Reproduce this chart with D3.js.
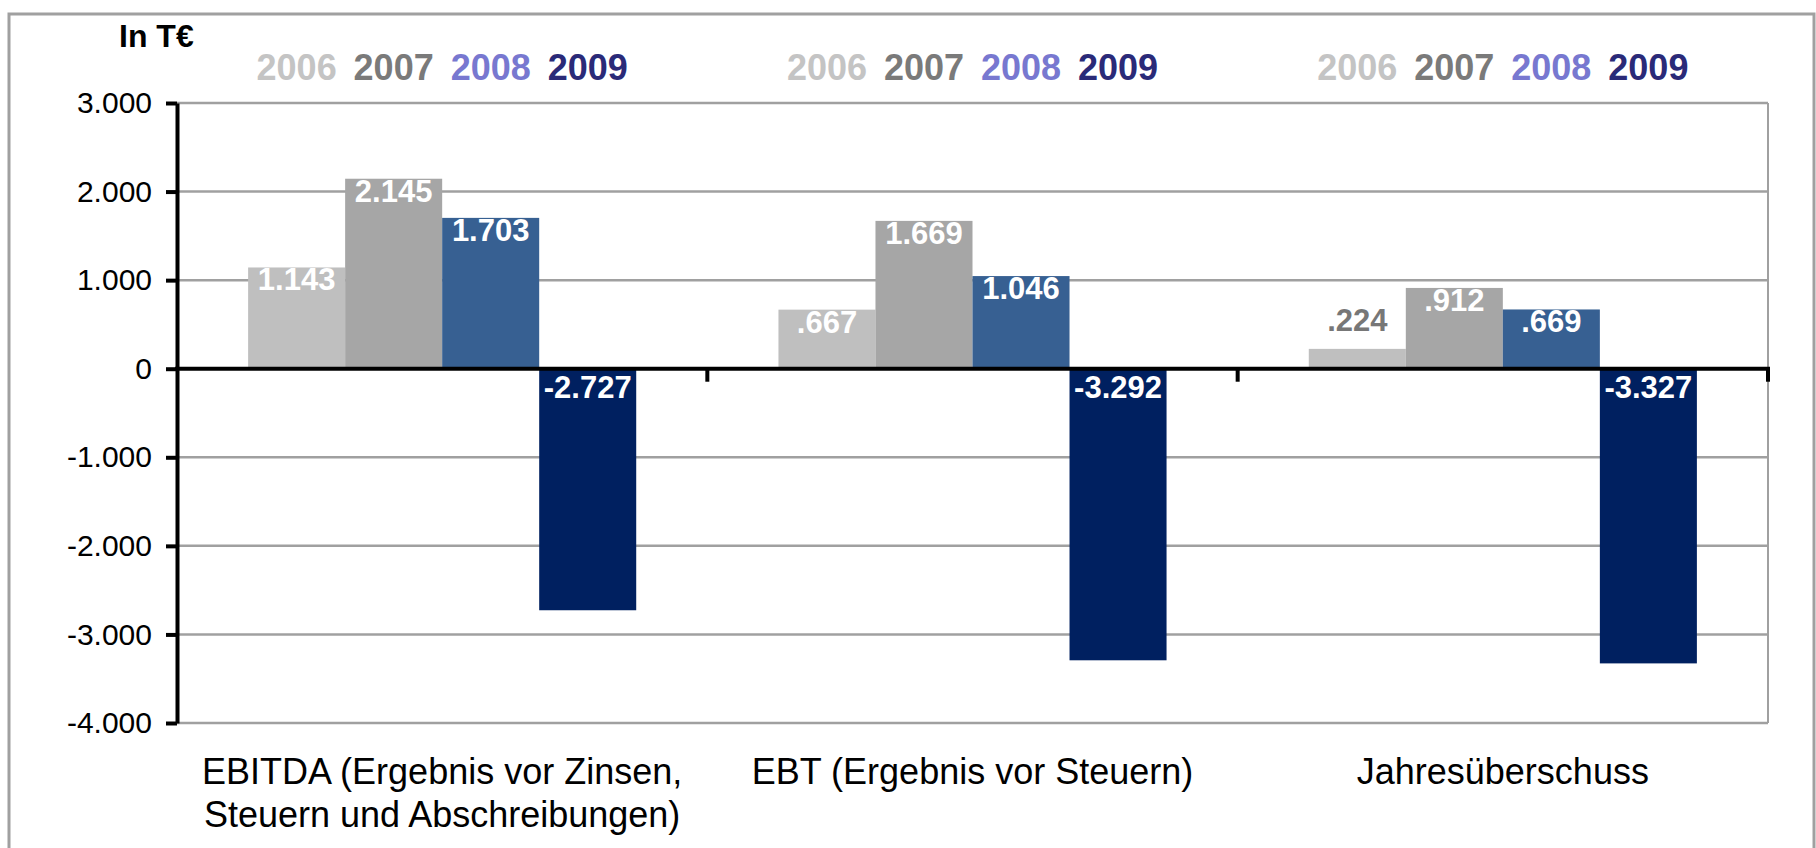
<!DOCTYPE html>
<html>
<head>
<meta charset="utf-8">
<script src="https://cdn.jsdelivr.net/npm/d3@7"></script>
<style>
  body { margin: 0; background: #fff; }
  text { font-family: "Liberation Sans", Arial, sans-serif; }
</style>
</head>
<body>
<script>
const categories = [
  ["EBITDA (Ergebnis vor Zinsen,", "Steuern und Abschreibungen)"],
  ["EBT (Ergebnis vor Steuern)"],
  ["Jahresüberschuss"]
];
const years = ["2006", "2007", "2008", "2009"];
const values2006 = [1143, 667, 224];
const values2007 = [2145, 1669, 912];
const values2008 = [1703, 1046, 669];
const values2009 = [-2727, -3292, -3327];
const yTicks = [3000, 2000, 1000, 0, -1000, -2000, -3000, -4000];
const unitLabel = "In T€";

const barColors = ["#bfbfbf", "#a6a6a6", "#376092", "#002060"];
const legendColors = ["#c4c4c4", "#7a7a7a", "#7878d0", "#2a2a78"];

const series = [values2006, values2007, values2008, values2009];
const catKeys = categories.map((c, i) => "c" + i);
const data = [];
catKeys.forEach((c, i) => {
  years.forEach((y, j) => data.push({ cat: c, year: y, value: series[j][i], idx: j }));
});

// labels like the original: thousands shown with "." and no leading zero
const fmt = (v) => {
  const a = Math.abs(v);
  const head = Math.floor(a / 1000);
  const tail = String(a % 1000).padStart(3, "0");
  return (v < 0 ? "-" : "") + (head ? head : "") + "." + tail;
};
const tickFmt = (v) => {
  if (v === 0) return "0";
  const a = Math.abs(v);
  return (v < 0 ? "-" : "") + Math.floor(a / 1000) + "." + String(a % 1000).padStart(3, "0");
};

const width = 1816, height = 848;
const svg = d3.select("body")
  .append("svg")
  .attr("width", width)
  .attr("height", height);

// outer frame
svg.append("rect")
  .attr("x", 9).attr("y", 14)
  .attr("width", 1805).attr("height", 900)
  .attr("fill", "none")
  .attr("stroke", "#a0a0a0")
  .attr("stroke-width", 3);

const x0 = d3.scaleBand()
  .domain(catKeys)
  .range([177, 1768])
  .paddingInner(0)
  .paddingOuter(0);

const x1 = d3.scaleBand()
  .domain(years)
  .range([0, x0.bandwidth()])
  .paddingInner(0)
  .paddingOuter(0.733);

const y = d3.scaleLinear()
  .domain([-4000, 3000])
  .range([723, 103]);

// gridlines
svg.append("g")
  .selectAll("line")
  .data(yTicks)
  .enter()
  .append("line")
  .attr("x1", 177)
  .attr("x2", 1768)
  .attr("y1", (d) => y(d))
  .attr("y2", (d) => y(d))
  .attr("stroke", "#a0a0a0")
  .attr("stroke-width", 2.5);

svg.append("line")
  .attr("x1", 1768).attr("x2", 1768)
  .attr("y1", y(3000)).attr("y2", y(-4000))
  .attr("stroke", "#a0a0a0")
  .attr("stroke-width", 2);

// bars
svg.append("g")
  .selectAll("rect")
  .data(data)
  .enter()
  .append("rect")
  .attr("x", (d) => x0(d.cat) + x1(d.year))
  .attr("y", (d) => y(Math.max(0, d.value)))
  .attr("width", x1.bandwidth())
  .attr("height", (d) => Math.abs(y(d.value) - y(0)))
  .attr("fill", (d) => barColors[d.idx]);

// y axis
const yAxis = svg.append("g")
  .attr("transform", "translate(177,0)")
  .call(d3.axisLeft(y).tickValues(yTicks).tickFormat(tickFmt).tickSize(11).tickSizeOuter(0).tickPadding(14));
yAxis.select(".domain").attr("stroke", "#000").attr("stroke-width", 4);
yAxis.selectAll(".tick line").attr("stroke", "#000").attr("stroke-width", 4);
yAxis.selectAll(".tick text")
  .attr("fill", "#000")
  .style("font-size", "30px")
  .style("font-family", "'Liberation Sans', Arial, sans-serif");

// zero line with category separators
svg.append("line")
  .attr("x1", 175).attr("x2", 1770)
  .attr("y1", y(0)).attr("y2", y(0))
  .attr("stroke", "#000")
  .attr("stroke-width", 4);

svg.append("g")
  .selectAll("line")
  .data(catKeys)
  .enter()
  .append("line")
  .attr("x1", (d) => x0(d) + x0.bandwidth())
  .attr("x2", (d) => x0(d) + x0.bandwidth())
  .attr("y1", y(0))
  .attr("y2", y(0) + 13)
  .attr("stroke", "#000")
  .attr("stroke-width", 4);

// data labels
svg.append("g")
  .selectAll("text")
  .data(data)
  .enter()
  .append("text")
  .attr("x", (d) => x0(d.cat) + x1(d.year) + x1.bandwidth() / 2)
  .attr("y", (d) => {
    if (d.value < 0) return y(0) + 29;
    const h = y(0) - y(d.value);
    return h < 34 ? y(d.value) - 18 : y(d.value) + 23;
  })
  .attr("text-anchor", "middle")
  .attr("fill", (d) => (d.value > 0 && y(0) - y(d.value) < 34) ? "#777777" : "#ffffff")
  .style("font-size", "31px")
  .style("font-weight", "bold")
  .text((d) => fmt(d.value));

// year legends above each group
svg.append("g")
  .selectAll("text")
  .data(data)
  .enter()
  .append("text")
  .attr("x", (d) => x0(d.cat) + x1(d.year) + x1.bandwidth() / 2)
  .attr("y", 80)
  .attr("text-anchor", "middle")
  .attr("fill", (d) => legendColors[d.idx])
  .style("font-size", "36px")
  .style("font-weight", "bold")
  .text((d) => d.year);

// unit label
svg.append("text")
  .attr("x", 119)
  .attr("y", 47)
  .attr("fill", "#000")
  .style("font-size", "32px")
  .style("font-weight", "bold")
  .text(unitLabel);

// category labels
const catText = svg.append("g")
  .selectAll("text")
  .data(categories)
  .enter()
  .append("text")
  .attr("text-anchor", "middle")
  .attr("fill", "#000")
  .style("font-size", "36px");

catText.selectAll("tspan")
  .data((d, i) => d.map((line, k) => ({ line, k, i })))
  .enter()
  .append("tspan")
  .attr("x", (d) => x0(catKeys[d.i]) + x0.bandwidth() / 2)
  .attr("y", (d) => 784 + d.k * 43)
  .text((d) => d.line);
</script>
</body>
</html>
